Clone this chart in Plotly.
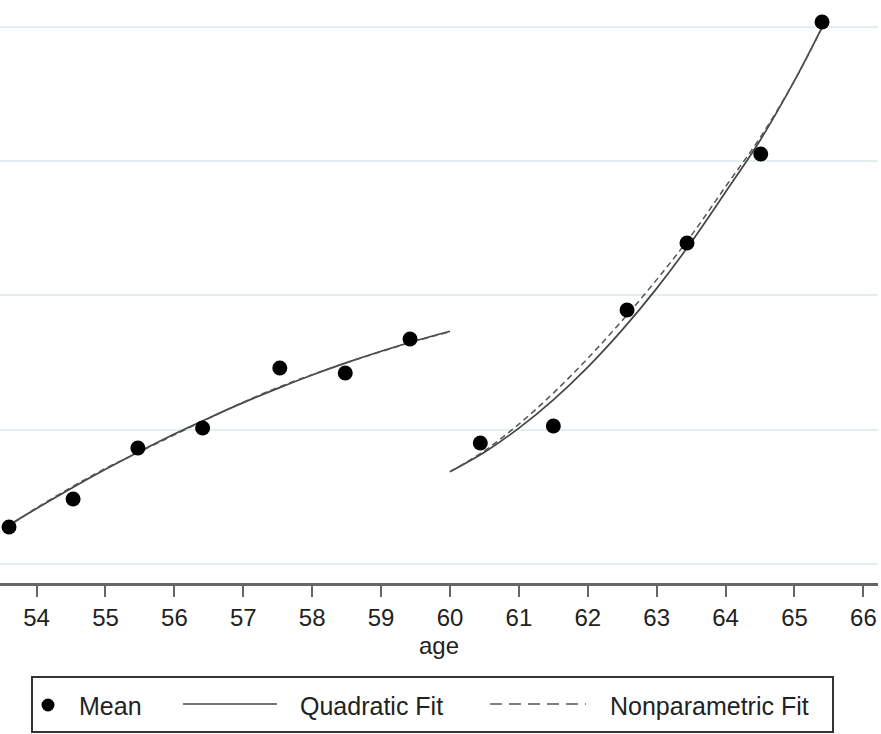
import plotly.graph_objects as go

# ---- data ----
mean_age_left = [53.60, 54.53, 55.47, 56.41, 57.53, 58.48, 59.42]
mean_val_left = [0.0276, 0.0484, 0.0864, 0.1013, 0.1460, 0.1423, 0.1676]
mean_age_right = [60.44, 61.50, 62.57, 63.44, 64.51, 65.40]
mean_val_right = [0.0901, 0.1028, 0.1892, 0.2391, 0.3054, 0.4037]

fit_age_left = [53.66, 54.0, 54.5, 55.0, 55.5, 56.0, 56.5, 57.0, 57.5, 58.0, 58.5, 59.0, 59.5, 60.0]
quad_left = [0.0309, 0.0414, 0.0563, 0.0705, 0.0840, 0.0968, 0.1088, 0.1202, 0.1308, 0.1408, 0.1500, 0.1585, 0.1663, 0.1734]
npar_left = [0.0305, 0.0418, 0.0570, 0.0712, 0.0836, 0.0962, 0.1085, 0.1205, 0.1315, 0.1410, 0.1500, 0.1582, 0.1660, 0.1730]

fit_age_right = [60.0, 60.5, 61.0, 61.5, 62.0, 62.5, 63.0, 63.5, 64.0, 64.5, 65.0, 65.42]
quad_right = [0.0688, 0.0833, 0.1012, 0.1223, 0.1467, 0.1744, 0.2053, 0.2396, 0.2771, 0.3155, 0.3600, 0.4017]
npar_right = [0.0688, 0.0843, 0.1042, 0.1273, 0.1532, 0.1814, 0.2118, 0.2446, 0.2811, 0.3175, 0.3600, 0.4017]

x_ticks = [54, 55, 56, 57, 58, 59, 60, 61, 62, 63, 64, 65, 66]
y_grid = [0.0, 0.1, 0.2, 0.3, 0.4]

legend_labels = ["Mean", "Quadratic Fit", "Nonparametric Fit"]

FONT = "Liberation Sans, Arial, Helvetica, sans-serif"
LINE_COL = "#444444"
DASH_COL = "#555555"

fig = go.Figure()
for ages, vals in [(fit_age_left, quad_left), (fit_age_right, quad_right)]:
    fig.add_trace(go.Scatter(x=ages, y=vals, mode="lines", line=dict(color=LINE_COL, width=1.7, shape="spline"),
                             showlegend=False, hoverinfo="skip"))
for ages, vals in [(fit_age_left, npar_left), (fit_age_right, npar_right)]:
    fig.add_trace(go.Scatter(x=ages, y=vals, mode="lines", line=dict(color=DASH_COL, width=1.5, dash="6px,4px", shape="spline"),
                             showlegend=False, hoverinfo="skip"))
fig.add_trace(go.Scatter(x=mean_age_left + mean_age_right, y=mean_val_left + mean_val_right, mode="markers",
                         marker=dict(color="black", size=15), showlegend=False))

# ---- manual legend (pixel geometry converted to paper coords) ----
PW, PH = 878.0, 583.0
def px(x):
    return x / PW
def py(y):
    return (PH - y) / PH

shapes = [
    dict(type="rect", xref="paper", yref="paper", x0=px(32), x1=px(833), y0=py(732), y1=py(677),
         line=dict(color="#333333", width=2), fillcolor="white", layer="above"),
    dict(type="circle", xref="paper", yref="paper", x0=px(41.5), x1=px(54.5), y0=py(711.5), y1=py(698.5),
         line=dict(color="black", width=0), fillcolor="black", layer="above"),
    dict(type="line", xref="paper", yref="paper", x0=px(183), x1=px(277), y0=py(704), y1=py(704),
         line=dict(color=LINE_COL, width=1.7), layer="above"),
    dict(type="line", xref="paper", yref="paper", x0=px(490), x1=px(586), y0=py(704), y1=py(704),
         line=dict(color=DASH_COL, width=1.5, dash="12px,7px"), layer="above"),
]
annots = []
for label, xl in zip(legend_labels, [77, 298, 608]):
    annots.append(dict(text=label, xref="paper", yref="paper", x=px(xl), y=py(706), xanchor="left", yanchor="middle",
                       showarrow=False, font=dict(family=FONT, size=25, color="#222222")))

fig.update_layout(
    width=881, height=734,
    margin=dict(l=0, r=3, t=0, b=151),
    paper_bgcolor="white", plot_bgcolor="white",
    shapes=shapes, annotations=annots,
    showlegend=False,
)
fig.update_xaxes(
    range=[53.469, 66.212], tickvals=x_ticks, ticktext=[str(t) for t in x_ticks],
    showgrid=False, zeroline=False,
    showline=True, linecolor="#666666", linewidth=2.5,
    ticks="outside", ticklen=11, tickwidth=2, tickcolor="#666666",
    tickfont=dict(family=FONT, size=24, color="#222222"),
    title=dict(text="age", font=dict(family=FONT, size=24, color="#222222"), standoff=8),
)
fig.update_yaxes(
    range=[-0.01415, 0.4201], tickvals=y_grid, showticklabels=False,
    showgrid=True, gridcolor="#e3eef0", gridwidth=2, zeroline=False, showline=False, ticks="",
)

fig.write_html("out.html", config={"displayModeBar": False},
               post_script="document.body.style.margin='0';")
